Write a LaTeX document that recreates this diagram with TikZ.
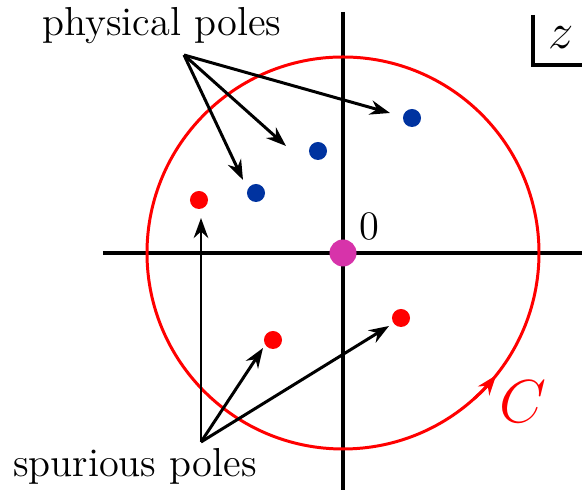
\documentclass[tikz,border=0pt]{standalone}
\usetikzlibrary{arrows.meta}
\definecolor{polered}{HTML}{FF0000}
\definecolor{poleblue}{HTML}{0033A0}
\definecolor{zeropt}{HTML}{D733AA}

\begin{document}
\begin{tikzpicture}[
  x=0.01cm, y=0.01cm,
  >={Stealth[length=2mm,width=1.45mm]},
  axis/.style={line width=0.95pt},
  ptr/.style={->, line width=0.85pt},
  pole/.style={circle, inner sep=0pt, minimum size=1.8mm},
  lbl/.style={font=\fontsize{11.5}{13}\selectfont, inner sep=0pt, anchor=base},
]
\useasboundingbox (-343,-239) rectangle (239,253);

% Axes
\draw[axis] (-240,0) -- (239,0);
\draw[axis] (0,241) -- (0,-237);

% Contour
\draw[polered, line width=0.85pt] (0,0) circle[radius=196];
\draw[polered, ptr] (-48:196) arc[start angle=-48, end angle=-38.6, radius=196];
\node[lbl, text=polered, font=\fontsize{19}{21}\selectfont] (cname) at (180,-170) {$C$};

% Origin
\node[circle, fill=zeropt, inner sep=0pt, minimum size=2.7mm] (org) at (0,0) {};
\node[lbl] (zero) at (26,13) {0};

% Plane label
\draw[axis] (190,238) -- (190,188) -- (239,188);
\node[lbl, font=\fontsize{15}{17}\selectfont] (zname) at (218,204) {$z$};

% Physical poles
\node[pole, fill=poleblue] (b1) at (69,135) {};
\node[pole, fill=poleblue] (b2) at (-25,102) {};
\node[pole, fill=poleblue] (b3) at (-87,60) {};
\node[lbl] (phys) at (-181,217) {physical poles};
\coordinate (physfrom) at (-159,198);
\coordinate (pt1) at (47,140);
\coordinate (pt2) at (-57,107);
\coordinate (pt3) at (-100,73);
\foreach \t in {pt1,pt2,pt3}{
  \draw[ptr] (physfrom) -- (\t);
}

% Spurious poles
\node[pole, fill=polered] (r1) at (-144,53) {};
\node[pole, fill=polered] (r2) at (-70,-87) {};
\node[pole, fill=polered] (r3) at (58,-65) {};
\node[lbl] (spur) at (-208,-224) {spurious poles};
\coordinate (spurfrom) at (-142,-189);
\coordinate (st1) at (-142,35);
\coordinate (st2) at (-80,-95);
\coordinate (st3) at (46,-73);
\foreach \t in {st1,st2,st3}{
  \draw[ptr] (spurfrom) -- (\t);
}

\end{tikzpicture}
\end{document}
